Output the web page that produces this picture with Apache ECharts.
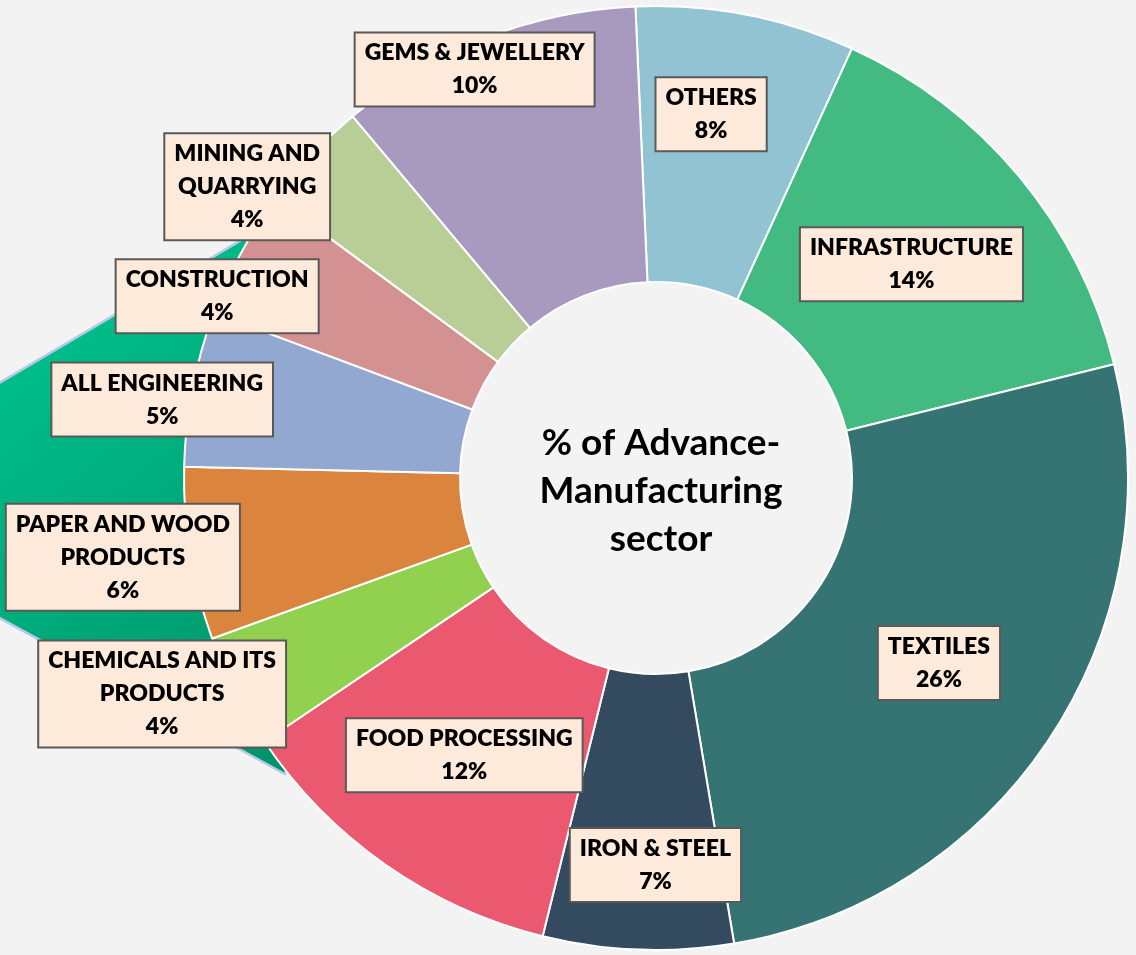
<!DOCTYPE html>
<html>
<head>
<meta charset="utf-8">
<script src="https://cdn.jsdelivr.net/npm/echarts@6/dist/echarts.min.js"></script>
<style>
  html, body { margin: 0; padding: 0; background: #f3f3f3; }
  #chart { width: 1136px; height: 955px; }
</style>
</head>
<body>
<div id="chart"></div>
<script>
const sectors = [
  'OTHERS', 'INFRASTRUCTURE', 'TEXTILES', 'IRON & STEEL', 'FOOD PROCESSING',
  'CHEMICALS AND ITS\nPRODUCTS', 'PAPER AND WOOD\nPRODUCTS', 'ALL ENGINEERING',
  'CONSTRUCTION', 'MINING AND\nQUARRYING', 'GEMS & JEWELLERY'
]
const shares = [7.5, 14.3, 26.2, 6.5, 11.7, 3.9, 5.9, 5.3, 4.4, 3.8, 10.4]
const colors = [
  '#92C3D3', '#44BA83', '#367474', '#344A5F', '#EB5970',
  '#92D050', '#DB843D', '#93A8D0', '#D39291', '#B9CE97', '#A899BF'
]
// label boxes: distance from the centre, and a small turn away from the slice middle (deg)
const labelRadius = [368, 333, 338, 387, 337, 539, 539, 500, 475, 502, 447]
const labelTurn = [-2.4, -0.2, -0.1, -2.1, -0.3, 3.3, 0.8, -1.9, -5.9, -7.7, -2.7]

const cx = 656, cy = 478
const startAngle = 92.5

// middle angle of each slice, clockwise from 12 o'clock
const total = shares.reduce((a, b) => a + b, 0)
let acc = 0
const midAngle = shares.map(v => {
  const m = (90 - startAngle) + (acc + v / 2) / total * 360
  acc += v
  return m
})

const myChart = echarts.init(document.getElementById('chart'))

const option = {
  backgroundColor: '#f3f3f3',
  animation: false,
  graphic: [
    {
      // teal slide decoration behind the ring
      type: 'polygon',
      z: -10,
      shape: { points: [[-6, 386], [245, 238], [420, 478], [285, 774], [-6, 615]] },
      style: {
        fill: new echarts.graphic.LinearGradient(0, 0, 1, 1, [
          { offset: 0, color: '#00C891' },
          { offset: 1, color: '#008A62' }
        ]),
        stroke: '#B7C9E8',
        lineWidth: 2.5
      }
    },
    {
      type: 'text',
      z: 100,
      x: 661,
      y: 491,
      style: {
        text: '% of Advance-\nManufacturing\nsector',
        fill: '#000',
        font: 'bold 37px Lato',
        lineHeight: 48,
        align: 'center',
        verticalAlign: 'middle'
      }
    }
  ],
  series: [
    {
      type: 'pie',
      center: [cx, cy],
      radius: [196, 472],
      startAngle: startAngle,
      clockwise: true,
      avoidLabelOverlap: false,
      itemStyle: {
        borderColor: '#ffffff',
        borderWidth: 2
      },
      label: {
        show: true,
        position: 'inside',
        formatter: p => p.name + '\n' + Math.round(p.percent) + '%',
        color: '#000',
        fontFamily: 'Lato',
        fontWeight: 800,
        fontSize: 23,
        lineHeight: 33,
        align: 'center',
        backgroundColor: '#FDEADA',
        borderColor: '#595959',
        borderWidth: 2,
        padding: [4, 9, 2, 9]
      },
      labelLine: { show: false },
      labelLayout: (params) => {
        const i = params.dataIndex
        const a = (midAngle[i] + labelTurn[i]) * Math.PI / 180
        return {
          x: cx + labelRadius[i] * Math.sin(a),
          y: cy - labelRadius[i] * Math.cos(a),
          align: 'center',
          verticalAlign: 'middle'
        }
      },
      data: sectors.map((name, i) => ({
        name: name,
        value: shares[i],
        itemStyle: { color: colors[i] }
      }))
    }
  ]
}

myChart.setOption(option)
</script>
</body>
</html>
